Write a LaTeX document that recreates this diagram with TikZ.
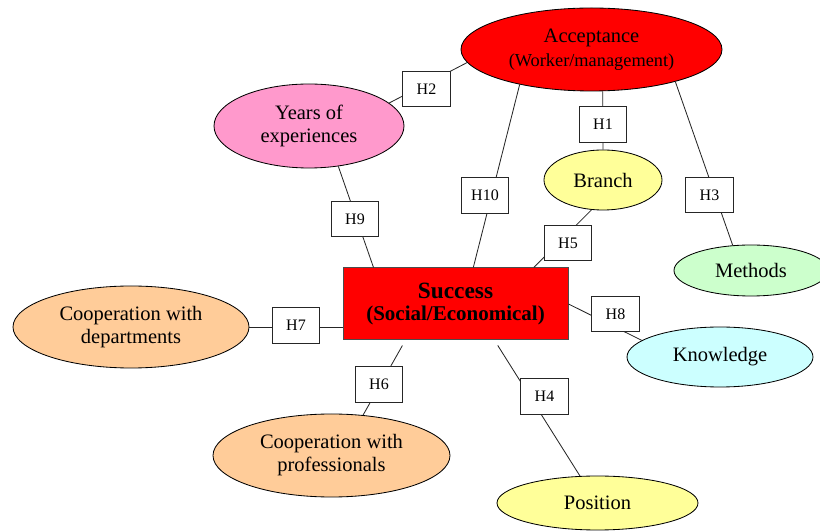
\documentclass[tikz,border=0pt]{standalone}
\usepackage{fontspec}
\setmainfont{Liberation Serif}
\usetikzlibrary{shapes.geometric}
\definecolor{peach}{HTML}{FFCC99}
\definecolor{paleyellow}{HTML}{FFFF99}
\definecolor{palegreen}{HTML}{CCFFCC}
\definecolor{palecyan}{HTML}{CCFFFF}
\definecolor{rose}{HTML}{FF99CC}

\begin{document}
\begin{tikzpicture}[x=0.6pt,y=-0.6pt,
    factor/.style = {ellipse,draw=black,line width=0.5pt,inner sep=0pt,align=center,font=\fontsize{12.3}{13.8}\selectfont},
    core/.style = {rectangle,draw=black!70,fill=red,line width=0.6pt,inner sep=0pt,align=center,font=\bfseries},
    hyp/.style = {rectangle,draw=black!85,fill=white,line width=0.6pt,minimum width=28.5pt,minimum height=21.3pt,inner sep=0pt,font=\fontsize{9.6}{11}\selectfont},
    link/.style = {draw=black!85,line width=0.5pt}]
\useasboundingbox (0,0) rectangle (820,531);

% factors round the centre
\node[factor,fill=red,minimum width=156.6pt,minimum height=49.8pt] (acc) at (591.5,49.5) {Acceptance\\[0.4pt]{\fontsize{11}{13.2}\selectfont (Worker/management)}};
\node[factor,fill=rose,minimum width=114pt,minimum height=50.4pt] (years) at (309,126) {Years of\\experiences};
\node[factor,fill=paleyellow,minimum width=70.8pt,minimum height=36pt] (branch) at (603,180) {Branch};
\node[factor,fill=palegreen,minimum width=92.4pt,minimum height=30.6pt] (methods) at (751,270.5) {Methods};
\node[factor,fill=palecyan,minimum width=111.6pt,minimum height=36pt] (know) at (720,357) {Knowledge};
\node[factor,fill=peach,minimum width=141.6pt,minimum height=49.2pt] (coopd) at (131,327) {Cooperation with\\departments};
\node[factor,fill=peach,minimum width=142.2pt,minimum height=49.8pt] (coopp) at (331.5,455.5) {Cooperation with\\professionals};
\node[factor,fill=paleyellow,minimum width=120.6pt,minimum height=32.4pt] (pos) at (597.5,503) {Position};
\node[core,minimum width=135pt,minimum height=43.2pt] (succ) at (455.5,304) {{\fontsize{14}{14}\selectfont Success}\\[1.4pt]{\fontsize{12.6}{14}\selectfont (Social/Economical)}};

% links, the H boxes sit on them
\foreach \a/\b in {years.16/acc.186, branch.north/acc.285.5, acc.206/succ.64, acc.339/methods.126,
                   years.306/succ.156, branch.249/succ.25, succ.east/know.168}
    \draw[link] (\a) -- (\b);
\draw[link] (coopd.east) -- (coopd.east -| succ.west);
\draw[link,shorten <=3.5pt] (succ.216) -- (coopp.52);
\draw[link,shorten <=3.5pt] (succ.317) -- (pos.123);

\foreach \n/\x/\y in {H1/603/124.5, H2/426.5/89, H3/709.5/195, H4/544.5/396.5, H5/568/243,
                      H6/379/384.5, H7/296/325.5, H8/615.5/314, H9/355/219, H10/485/195.5}
    \node[hyp] (\n) at (\x,\y) {\n};
\end{tikzpicture}
\end{document}
